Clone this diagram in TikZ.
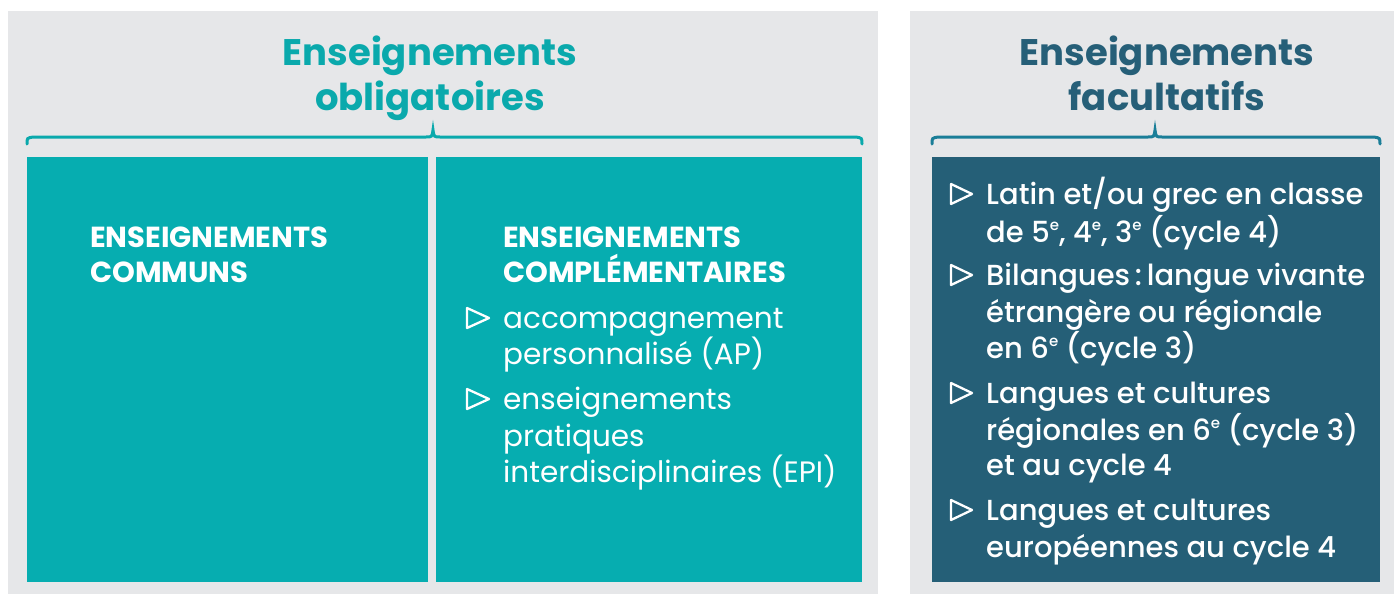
\documentclass[tikz,border=0pt]{standalone}
\usepackage{fontspec}
\setmainfont{Poppins}
\newfontfamily\popmed{Poppins Medium}
\definecolor{greybg}{HTML}{E6E7E9}
\definecolor{tealbox}{HTML}{06ADB0}
\definecolor{tealtitle}{HTML}{0AA9AC}
\definecolor{darkbox}{HTML}{255F77}
\definecolor{darktitle}{HTML}{265F78}
\definecolor{darkbrace}{HTML}{1A7E98}
\newcommand\expo[1]{\raisebox{12pt}{\fontsize{15}{15}\selectfont #1}}
\begin{document}
\begin{tikzpicture}[x=1pt,y=-1pt,
  titletxt/.style={font=\bfseries\fontsize{37}{45}\selectfont, inner sep=0, anchor=base},
  headtxt/.style={font=\bfseries\fontsize{29}{35}\selectfont, text=white, inner sep=0, anchor=base west},
  itemtxt/.style={font=\fontsize{29.5}{36}\selectfont, text=white, inner sep=0, anchor=base west},
  fitemtxt/.style={font=\popmed\fontsize{29}{36}\selectfont, text=white, inner sep=0, anchor=base west},
  tri/.style={draw=white, line width=2.3pt, line join=round},
  bracepath/.style={line width=3pt, line cap=round}]
\useasboundingbox (0,0) rectangle (1394,595);
\fill[white] (0,0) rectangle (1394,595);
% panels
\fill[greybg] (8,11) rectangle (878,594);
\fill[greybg] (910,11) rectangle (1394,594);
\fill[tealbox] (27,157) rectangle (428,582);
\fill[tealbox] (436,157) rectangle (862,582);
\fill[darkbox] (932,157) rectangle (1380,582);
% titles
\node[titletxt, text=tealtitle] (t1a) at (430,65) {Enseignements};
\node[titletxt, text=tealtitle] (t1b) at (430,110) {obligatoires};
\node[titletxt, text=darktitle] (t2a) at (1167,65) {Enseignements};
\node[titletxt, text=darktitle] (t2b) at (1167,110) {facultatifs};
% braces
\draw[bracepath, tealtitle] (27,144) .. controls (27,138) .. (33,137) -- (426,137)
  .. controls (432,137) .. (433,130) .. controls (434,137) .. (440,137) -- (856,137)
  .. controls (862,138) .. (862,144);
\draw[bracepath, darkbrace] (932,144) .. controls (932,138) .. (938,137) -- (1148,137)
  .. controls (1154,137) .. (1155,130) .. controls (1156,137) .. (1162,137) -- (1374,137)
  .. controls (1380,138) .. (1380,144);
% left box
\node[headtxt] (c1) at (90,247) {ENSEIGNEMENTS};
\node[headtxt] (c2) at (90,282) {COMMUNS};
% middle box
\node[headtxt] (m1) at (503,247) {ENSEIGNEMENTS};
\node[headtxt] (m2) at (503,282) {COMPLÉMENTAIRES};
\draw[tri] (467,308) -- (489,318) -- (467,328) -- cycle;
\node[itemtxt] (a1) at (503,328) {accompagnement};
\node[itemtxt] (a2) at (503,364) {personnalisé (AP)};
\draw[tri] (467,389) -- (489,399) -- (467,409) -- cycle;
\node[itemtxt] (b1) at (503,409) {enseignements};
\node[itemtxt] (b2) at (503,446) {pratiques};
\node[itemtxt] (b3) at (503,482) {interdisciplinaires (EPI)};
% right box
\draw[tri] (951,184) -- (972,194) -- (951,204) -- cycle;
\node[fitemtxt] (f1) at (986,204) {Latin et/ou grec en classe};
\node[fitemtxt] (f2) at (986,242) {de 5\expo{e}, 4\expo{e}, 3\expo{e} (cycle 4)};
\draw[tri] (951,265) -- (972,275) -- (951,285) -- cycle;
\node[fitemtxt] (g1) at (986,285) {Bilangues\,:\,langue vivante};
\node[fitemtxt] (g2) at (986,322) {étrangère ou régionale};
\node[fitemtxt] (g3) at (986,358) {en 6\expo{e} (cycle 3)};
\draw[tri] (951,383) -- (972,393) -- (951,403) -- cycle;
\node[fitemtxt] (h1) at (986,403) {Langues et cultures};
\node[fitemtxt] (h2) at (986,440) {régionales en 6\expo{e} (cycle 3)};
\node[fitemtxt] (h3) at (986,475) {et au cycle 4};
\draw[tri] (951,500) -- (972,510) -- (951,520) -- cycle;
\node[fitemtxt] (k1) at (986,520) {Langues et cultures};
\node[fitemtxt] (k2) at (986,557) {européennes au cycle 4};
\end{tikzpicture}
\end{document}
